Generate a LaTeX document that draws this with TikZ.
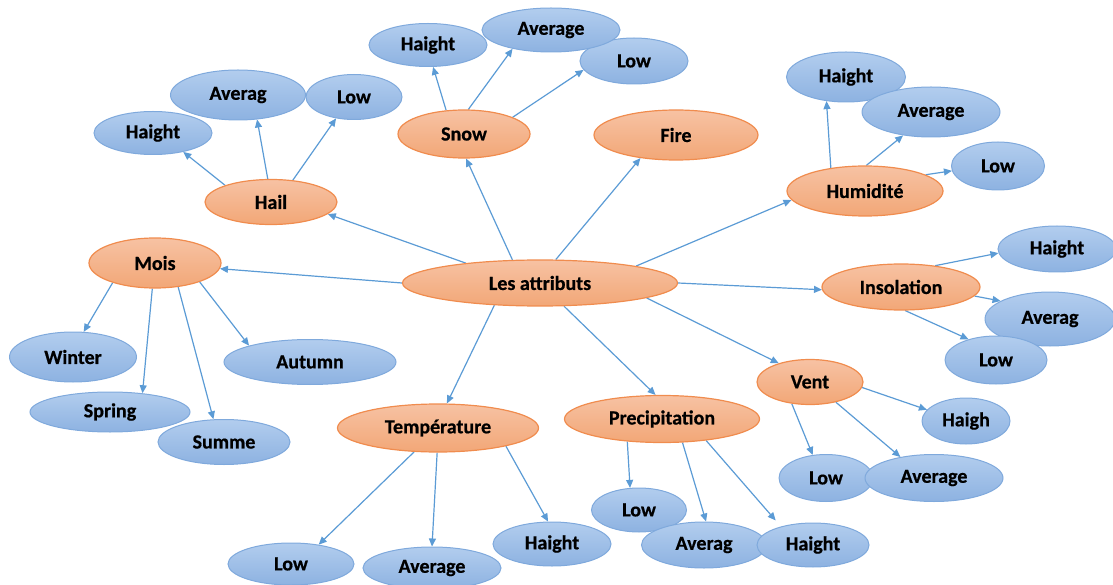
\documentclass[tikz,border=0pt]{standalone}
\usepackage{fontspec}
\setmainfont{Carlito}[BoldFeatures={FakeBold=0.6}]
\usetikzlibrary{arrows.meta,backgrounds,shapes.geometric}
\definecolor{ortop}{HTML}{F7C2A3}
\definecolor{orbot}{HTML}{F2A777}
\definecolor{orborder}{HTML}{F08C4E}
\definecolor{bltop}{HTML}{B2CDEE}
\definecolor{blbot}{HTML}{8DB2E1}
\definecolor{blborder}{HTML}{7FA9DC}
\definecolor{lnk}{HTML}{5B9BD5}
\tikzset{
  base/.style={ellipse, inner sep=0pt, font=\fontsize{20}{23}\selectfont\bfseries, text=black},
  onode/.style={base, draw=orborder, line width=1.2pt, top color=ortop, bottom color=orbot},
  bnode/.style={base, draw=blborder, line width=1pt, top color=bltop, bottom color=blbot},
  link/.style={draw=lnk, line width=1.2pt, -{Triangle[length=8pt,width=7pt]}},
  sz/.style 2 args={minimum width=#1pt, minimum height=#2pt}
}
\begin{document}
\begin{tikzpicture}[x=1pt,y=-1pt]
\useasboundingbox (0,0) rectangle (1113,585);
% orange nodes
\node[onode, sz={275}{46}] (attr) at (540,283) {Les attributs};
\node[onode, sz={132}{50}] (mois) at (155,263) {Mois};
\node[onode, sz={132}{45}] (hail) at (271,202) {Hail};
\node[onode, sz={132}{48}] (snow) at (464,134) {Snow};
\node[onode, sz={164}{50}] (fire) at (676,135) {Fire};
\node[onode, sz={156}{50}] (hum) at (865,191) {Humidité};
\node[onode, sz={158}{46}] (ins) at (901,287) {Insolation};
\node[onode, sz={106}{45}] (vent) at (810,382) {Vent};
\node[onode, sz={195}{47}] (prec) at (662,419) {Precipitation};
\node[onode, sz={201}{48}] (temp) at (438,428) {Température};
% blue nodes
\node[bnode, sz={127}{50}] (winter) at (73,357) {Winter};
\node[bnode, sz={172}{45}] (autumn) at (310,362) {Autumn};
\node[bnode, sz={160}{40}] (spring) at (110,412) {Spring};
\node[bnode, sz={132}{45}] (summe) at (224,442) {Summe};
\node[bnode, sz={135}{50}] (hAv) at (238,95) {Averag};
\node[bnode, sz={118}{43}] (hHa) at (153,133) {Haight};
\node[bnode, sz={96}{45}] (hLo) at (354,97) {Low};
\node[bnode, sz={118}{43}] (sHa) at (428,45) {Haight};
\node[bnode, sz={108}{46}] (sLo) at (634,61) {Low};
\node[bnode, sz={138}{44}] (sAv) at (551,30) {Average};
\node[bnode, sz={119}{50}] (uHa) at (846,77) {Haight};
\node[bnode, sz={138}{50}] (uAv) at (931,112) {Average};
\node[bnode, sz={93}{48}] (uLo) at (998,166) {Low};
\node[bnode, sz={118}{46}] (iHa) at (1057,249) {Haight};
\node[bnode, sz={130}{54}] (iAv) at (1050,319) {Averag};
\node[bnode, sz={102}{48}] (iLo) at (996,360) {Low};
\node[bnode, sz={88}{46}] (vHa) at (966,421) {Haigh};
\node[bnode, sz={94}{47}] (vLo) at (826,478) {Low};
\node[bnode, sz={138}{47}] (vAv) at (934,478) {Average};
\node[bnode, sz={95}{44}] (pLo) at (639,510) {Low};
\node[bnode, sz={125}{46}] (pAv) at (704,545) {Averag};
\node[bnode, sz={112}{44}] (pHa) at (813,545) {Haight};
\node[bnode, sz={126}{42}] (tLo) at (291,564) {Low};
\node[bnode, sz={138}{42}] (tAv) at (432,568) {Average};
\node[bnode, sz={118}{44}] (tHa) at (552,544) {Haight};
\begin{pgfonlayer}{background}
% central links
\draw[link] (attr.180) -- (mois.-5);
\draw[link] (attr.165) -- (hail.-12);
\draw[link] (attr.140) -- (snow.-85);
\draw[link] (attr.56) -- (fire.213);
\draw[link] (attr.10) -- (hum.187);
\draw[link] (attr.east) -- (ins.182);
\draw[link] (attr.-8) -- (vent.149);
\draw[link] (attr.-44) -- (prec.105);
\draw[link] (attr.206) -- (temp.70);
% Mois
\draw[link] (mois.205) -- (winter.67);
\draw[link] (mois.264) -- (spring.30);
\draw[link] (mois.-46) -- (summe.115);
\draw[link] (mois.-23) -- (autumn.165);
% Hail
\draw[link] (hail.160) -- (hHa.-32);
\draw[link] (hail.98) -- (hAv.-52);
\draw[link] (hail.45) -- (hLo.230);
% Snow
\draw[link] (snow.127) -- (sHa.-77);
\draw[link] (snow.80) -- (sAv.206);
\draw[link] (snow.19) -- (sLo.190);
% Humidite
\draw[link] (hum.146) -- (uHa.231);
\draw[link] (hum.87) -- (uAv.220);
\draw[link] (hum.15) -- (uLo.186);
% Insolation
\draw[link] (ins.32) -- (iHa.184);
\draw[link] (ins.-7) -- (iAv.160);
\draw[link] (ins.-80) -- (iLo.143);
% Vent
\draw[link] (vent.-6) -- (vHa.164);
\draw[link] (vent.230) -- (vLo.120);
\draw[link] (vent.-38) -- (vAv.148);
% Precipitation
\draw[link] (prec.213) -- (pLo.112);
\draw[link] (prec.-49) -- (pAv.85);
\draw[link, shorten >=8pt] (prec.-26) -- (pHa.150);
% Temperature
\draw[link] (temp.225) -- (tLo.35);
\draw[link] (temp.-92) -- (tAv.90);
\draw[link] (temp.-15) -- (tHa.100);
\end{pgfonlayer}
\end{tikzpicture}
\end{document}
